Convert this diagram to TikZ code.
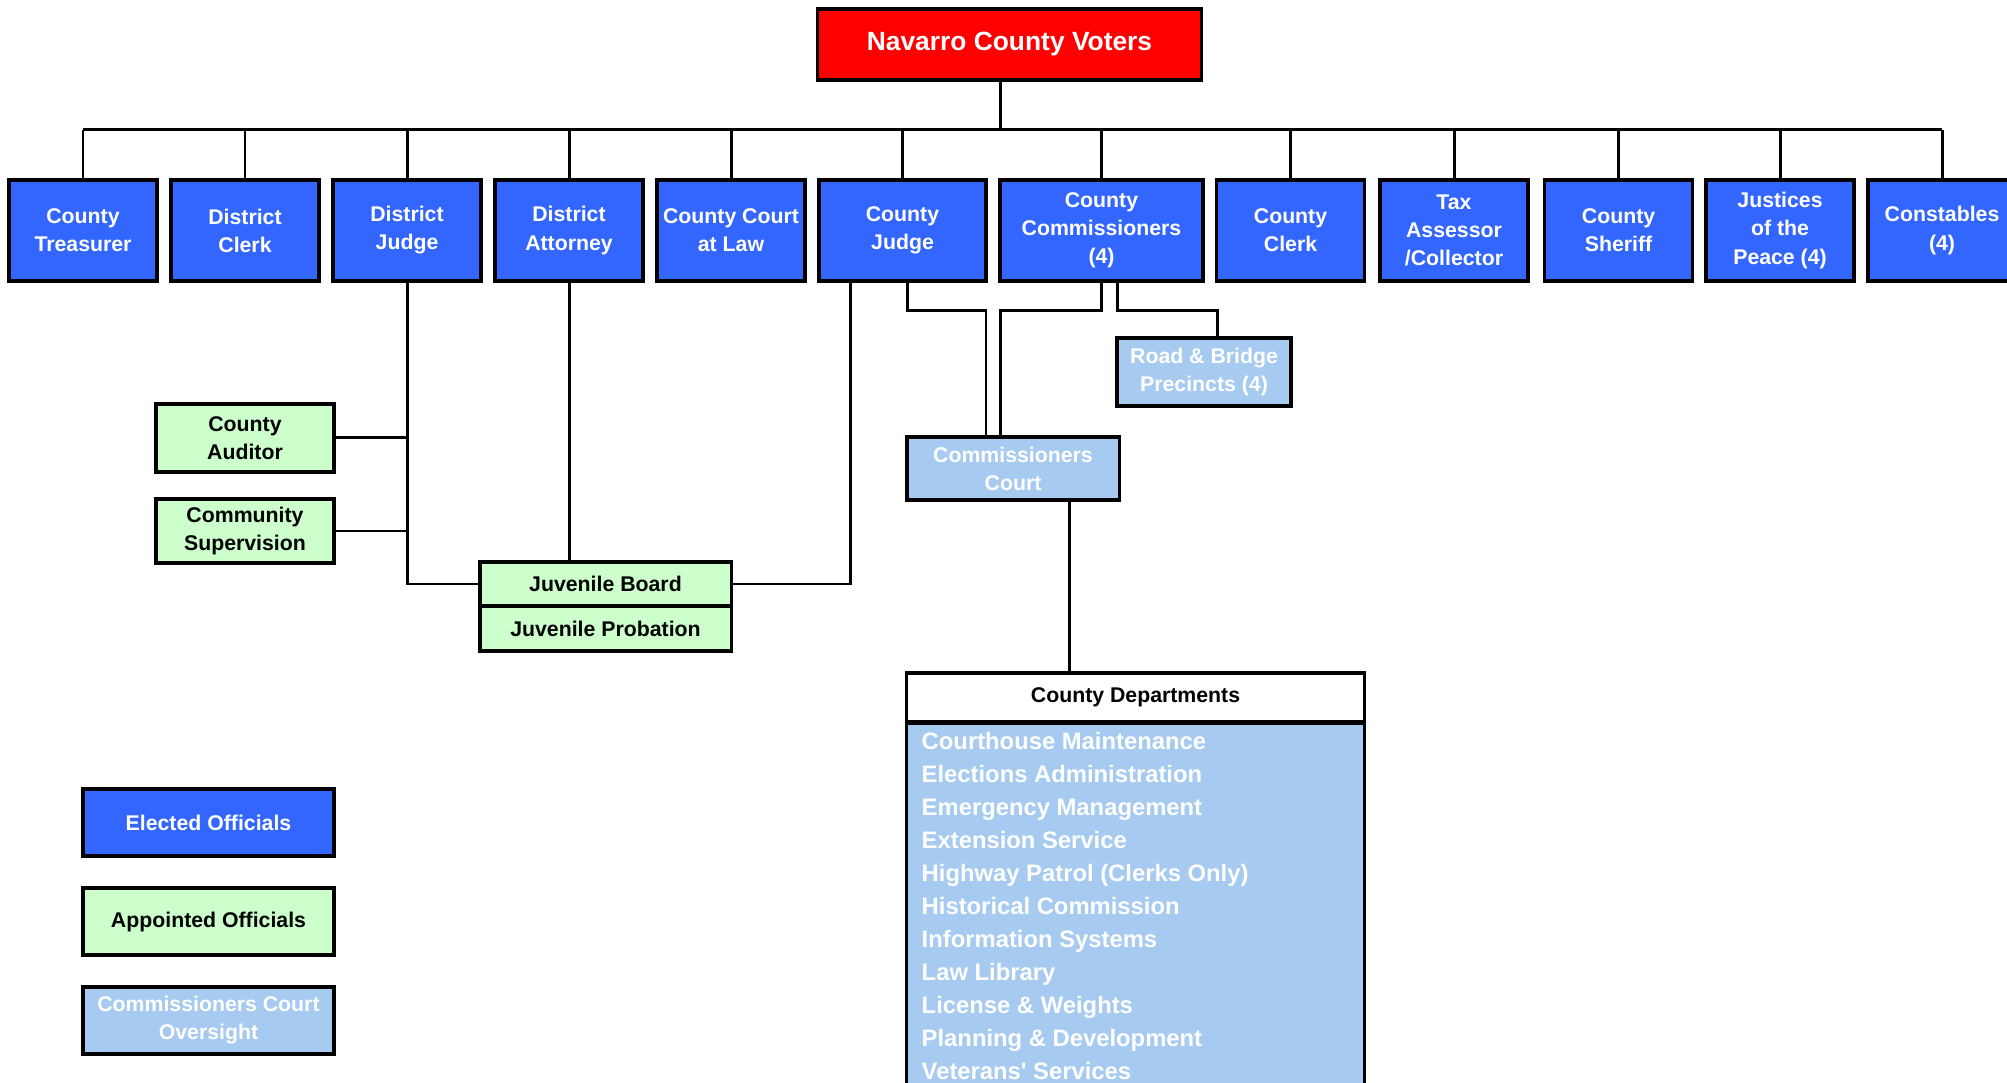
\documentclass[tikz,border=0pt]{standalone}
\usepackage{fontspec}
\setmainfont{Liberation Sans}
\definecolor{electblue}{RGB}{51,102,255}
\definecolor{votered}{RGB}{255,0,0}
\definecolor{appgreen}{RGB}{204,255,204}
\definecolor{oversight}{RGB}{166,202,240}
\tikzset{
  office/.style={draw=black, line width=0.9pt, inner sep=0pt, align=center,
    font=\bfseries\fontsize{6.05pt}{7.97pt}\selectfont},
  elected/.style={office, fill=electblue, text=white, minimum width=1.48cm, minimum height=1.01cm},
  appointed/.style={office, fill=appgreen, text=black},
  overseen/.style={office, fill=oversight, text=white},
  deptitem/.style={anchor=base west, inner sep=0pt, text=white,
    font=\bfseries\fontsize{6.77pt}{8pt}\selectfont},
  link/.style={line width=0.85pt},
}
\begin{document}
\begin{tikzpicture}[x=0.01cm, y=-0.01cm]
      \useasboundingbox (0,0) rectangle (2007,1083);

      \node [office, fill=votered, text=white, minimum width=3.83cm, minimum height=0.71cm,
        font=\bfseries\fontsize{7.5pt}{9pt}\selectfont] (voters) at (1009.5, 44.5) {Navarro County Voters};

      % elected offices
      \node [elected] (treasurer) at (83, 230.5) {County\\Treasurer};
      \node [elected] (dclerk) at (245, 230.5) {District\\Clerk};
      \node [elected] (djudge) at (407, 230.5) {District\\Judge};
      \node [elected] (dattorney) at (569, 230.5) {District\\Attorney};
      \node [elected] (courtlaw) at (731, 230.5) {County Court\\at Law};
      \node [elected, minimum width=1.67cm] (cjudge) at (902.5, 230.5) {County\\Judge};
      \node [elected, minimum width=2.03cm] (commissioners) at (1101.5, 230.5) {County\\Commissioners\\(4)};
      \node [elected] (cclerk) at (1290.5, 230.5) {County\\Clerk};
      \node [elected] (taxac) at (1454, 230.5) {Tax\\Assessor\\/Collector};
      \node [elected] (sheriff) at (1618.5, 230.5) {County\\Sheriff};
      \node [elected] (justices) at (1780, 230.5) {Justices\\of the\\Peace (4)};
      \node [elected] (constables) at (1942, 230.5) {Constables\\(4)};

      \coordinate (bus) at (1000, 130);
      \draw [link] (voters.south -| bus) -- (bus);
      \draw [link] (treasurer.north |- bus) -- (constables.north |- bus);
      \foreach \o in {treasurer, dclerk, djudge, dattorney, courtlaw, cjudge,
                      commissioners, cclerk, taxac, sheriff, justices, constables}
        \draw [link] (\o.north) -- (\o.north |- bus);

      % appointed offices
      \node [appointed, minimum width=1.78cm, minimum height=0.68cm] (auditor) at (245, 438) {County\\Auditor};
      \node [appointed, minimum width=1.78cm, minimum height=0.64cm] (supervision) at (245, 531) {Community\\Supervision};
      \node [appointed, minimum width=2.51cm, minimum height=0.44cm] (jboard) at (605.5, 584) {Juvenile Board};
      \node [appointed, minimum width=2.51cm, minimum height=0.45cm] (jprobation) at (605.5, 628.5) {Juvenile Probation};

      \draw [link] (djudge.south) |- (jboard.west);
      \draw [link] (auditor.east) -- (auditor.east -| djudge.south);
      \draw [link] (supervision.east) -- (supervision.east -| djudge.south);
      \draw [link] (dattorney.south) -- (dattorney.south |- jboard.north);
      \coordinate (cjtap) at ([xshift=0.33cm]cjudge.south west);
      \draw [link] (cjtap) |- (jboard.east);

      % commissioners court
      \node [overseen, minimum width=1.74cm, minimum height=0.68cm] (road) at (1204, 372) {Road \& Bridge\\Precincts (4)};
      \node [overseen, minimum width=2.12cm, minimum height=0.63cm] (ccourt) at (1013, 468.5) {Commissioners\\Court};

      \coordinate (cjtap2) at ([xshift=0.045cm]cjudge.south);
      \draw [link] (cjtap2) -- ++(0,28) -| ([xshift=-0.27cm]ccourt.north);
      \draw [link] (commissioners.south) -- ++(0,28) -| ([xshift=-0.13cm]ccourt.north);
      \draw [link] ([xshift=0.155cm]commissioners.south) -- ++(0,28) -| ([xshift=0.13cm]road.north);

      % departments
      \node [overseen, anchor=north, minimum width=4.57cm, minimum height=3.8cm] (deptpanel) at (1135.5, 722) {};
      \node [office, fill=white, minimum width=4.57cm, minimum height=0.49cm] (depthead) at (1135.5, 697.5) {County Departments};
      \foreach \dept [count=\i from 0] in {Courthouse Maintenance, Elections Administration,
          Emergency Management, Extension Service, Highway Patrol (Clerks Only),
          Historical Commission, Information Systems, Law Library, License \& Weights,
          Planning \& Development, Veterans\textquotesingle\ Services}
        \node [deptitem] (dept\i) at (921, 749 + 33*\i) {\dept};

      \coordinate (cctap) at ([xshift=0.56cm]ccourt.south);
      \draw [link] (cctap) -- (cctap |- depthead.north);

      % key
      \node [elected, minimum width=2.51cm, minimum height=0.67cm] (keyelected) at (208.5, 822.5) {Elected Officials};
      \node [appointed, minimum width=2.51cm, minimum height=0.67cm] (keyappointed) at (208.5, 921.5) {Appointed Officials};
      \node [overseen, minimum width=2.51cm, minimum height=0.67cm] (keyoversight) at (208.5, 1020.5) {Commissioners Court\\Oversight};

    \end{tikzpicture}
\end{document}
